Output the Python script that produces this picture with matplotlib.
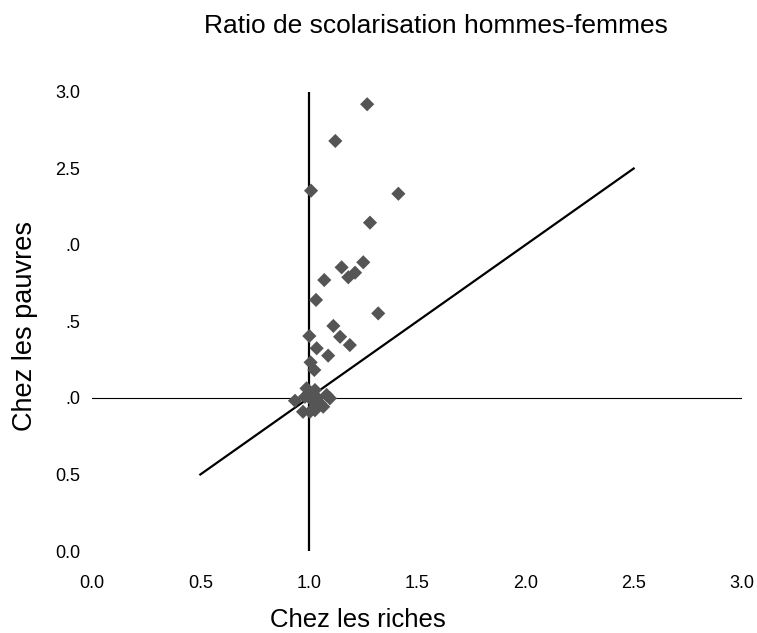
import matplotlib
matplotlib.use("Agg")
import matplotlib.pyplot as plt

plt.rcParams['font.family'] = ['Liberation Sans', 'DejaVu Sans']

title = "Ratio de scolarisation hommes-femmes"
xlabel = "Chez les riches"
ylabel = "Chez les pauvres"

x_ticks = [0.0, 0.5, 1.0, 1.5, 2.0, 2.5, 3.0]
x_tick_labels = ["0.0", "0.5", "1.0", "1.5", "2.0", "2.5", "3.0"]
y_ticks = [0.0, 0.5, 1.0, 1.5, 2.0, 2.5, 3.0]
y_tick_labels = ["0.0", "0.5", ".0", ".5", ".0", "2.5", "3.0"]

riches = [1.270, 1.123, 1.011, 1.414, 1.283, 1.252, 1.152, 1.183, 1.214, 1.072,
          1.034, 1.321, 1.114, 1.003, 1.145, 1.190, 1.037, 1.090, 1.009, 1.026,
          0.937, 0.974, 0.990, 1.029, 1.083, 1.098, 1.014, 1.052, 1.006, 1.029,
          1.067, 0.983, 1.000, 1.040]
pauvres = [2.920, 2.680, 2.355, 2.335, 2.146, 1.887, 1.854, 1.789, 1.819, 1.771,
           1.641, 1.553, 1.471, 1.405, 1.400, 1.346, 1.325, 1.277, 1.233, 1.183,
           0.982, 0.910, 1.063, 1.052, 1.020, 0.998, 0.987, 0.965, 0.910, 0.920,
           0.943, 1.008, 1.030, 1.000]

ref_x = 1.0
ref_y = 1.0
diag = [0.5, 2.5]

fig = plt.figure(figsize=(7.57, 6.33), dpi=100)
ax = fig.add_axes([92/757, 1-551/633, 650/757, 459/633])
ax.set_xlim(0, 3)
ax.set_ylim(0, 3)

ax.plot([ref_x, ref_x], [0, 3], color='black', lw=1.6, zorder=1)
ax.plot([0, 3], [ref_y, ref_y], color='black', lw=0.8, zorder=1)
ax.plot(diag, diag, color='black', lw=1.6, zorder=1)

ax.scatter(riches, pauvres, marker='D', s=52, color='#555555', edgecolors='none', zorder=3)

for s in ax.spines.values():
    s.set_visible(False)
ax.set_xticks(x_ticks)
ax.set_xticklabels(x_tick_labels, fontsize=13)
ax.set_yticks(y_ticks)
ax.set_yticklabels(y_tick_labels, fontsize=13)
ax.tick_params(axis='both', length=0)
ax.tick_params(axis='x', pad=17)
ax.tick_params(axis='y', pad=8.6)

fig.text(435.5/757, 1-33/633, title, ha='center', va='baseline', fontsize=19)
fig.text(358/757, 1-627/633, xlabel, ha='center', va='baseline', fontsize=18.5)
fig.text(25/757, 1-326/633, ylabel, ha='center', va='center', rotation=90, fontsize=19.5)

fig.savefig("out.png", dpi=100)
